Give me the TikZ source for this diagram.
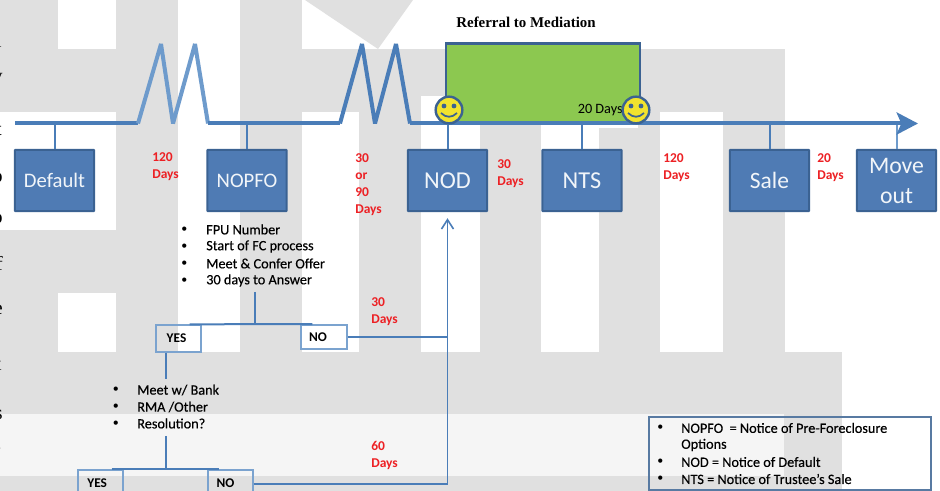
\documentclass[tikz,border=0pt]{standalone}
\usepackage{fontspec}
\setmainfont{Carlito}
\newfontfamily\serifface{Liberation Serif}
\newfontfamily\inkface[FakeBold=0.35]{Carlito}
\usetikzlibrary{arrows.meta,calc}
\definecolor{wmgray}{HTML}{E0E0E0}
\definecolor{wmlight}{HTML}{F5F5F5}
\definecolor{boxblue}{HTML}{4F7BB4}
\definecolor{boxedge}{HTML}{3B6292}
\definecolor{lineblue}{HTML}{4A7DB8}
\definecolor{paleline}{HTML}{6E9BCC}
\definecolor{thinbox}{HTML}{7BA3CF}
\definecolor{dayred}{HTML}{ED2024}
\definecolor{medgreen}{HTML}{8CC850}
\definecolor{smile}{HTML}{F2E32E}
\tikzset{
  wm/.style={fill=white,draw=none},
  stage/.style={draw=boxedge,fill=boxblue,line width=1.6pt,rounded corners=0.6pt,text=white!92!boxblue,
     minimum width=59.5pt,minimum height=46pt,inner sep=0pt,font=\fontsize{15.5}{18}\selectfont,align=center},
  bigstage/.style={stage,font=\fontsize{18.2}{21}\selectfont},
  days/.style={anchor=west,inner sep=0pt,text=dayred,font=\fontsize{10.1}{12.75}\selectfont\bfseries,align=left},
  note/.style={anchor=west,inner sep=0pt,text=black,font=\inkface\fontsize{10.7}{12}\selectfont},
  dot/.style={anchor=west,inner sep=0pt,text=black,font=\fontsize{9}{12}\selectfont},
  choice/.style={draw=thinbox,fill=none,line width=1.3pt,inner sep=0pt,font=\fontsize{10}{12}\selectfont\bfseries},
  main/.style={draw=lineblue,line width=3pt,line join=bevel},
  stem/.style={draw=lineblue,line width=1.5pt},
  route/.style={draw=lineblue,line width=1.2pt},
  fragment/.style={anchor=east,inner sep=0pt,font=\serifface\fontsize{15}{18}\selectfont},
}
\newcommand{\face}[2]{%
  \node[circle,draw=boxedge,fill=smile,line width=1.8pt,minimum size=20pt,inner sep=0pt] (#2) at (#1) {};
  \fill[boxedge] ($(#2)+(-5,-4)$) circle (2.4);
  \fill[boxedge] ($(#2)+(5,-4)$) circle (2.4);
  \draw[boxedge,line width=1.3pt] ($(#2)+(-8,3)$) .. controls ($(#2)+(-3,8)$) and ($(#2)+(3,8)$) .. ($(#2)+(8,3)$);
}
\begin{document}
\begin{tikzpicture}[x=0.75pt,y=-0.75pt]
\useasboundingbox (0,0) rectangle (940,491);
\clip (0,0) rectangle (940,491);
% watermark
\fill[wmgray] (0,0) rectangle (940,491);
\fill[wm] (58,0) rectangle (116,49);
\fill[wm] (178,0) rectangle (240,352);
\fill[wm] (302,0) rectangle (940,49);
\fill[wmgray] (305,0) -- (378,49) -- (413,0) -- cycle;
\fill[wm] (785,49) rectangle (940,352);
\fill[wm] (842,352) rectangle (940,491);
\fill[wm] (0,112) rectangle (116,230);
\fill[wm] (58,293) rectangle (116,352);
\fill[wm] (302,112) rectangle (359,352);
\fill[wm] (421,96) rectangle (480,352);
\fill[wm] (541,112) rectangle (599,352);
\fill[wm] (660,112) rectangle (723,352);
\fill[wmlight] (0,414) rectangle (784,476);
% cut-off letters of the page text at the left edge
\node[fragment] (f1) at (2,41) {l};
\node[fragment] (f2) at (3,80) {y};
\node[fragment] (f3) at (2,130) {t};
\node[fragment] (f4) at (3,178) {o};
\node[fragment] (f5) at (3,219) {o};
\node[fragment] (f6) at (3,263) {f};
\node[fragment] (f7) at (3,310) {e};
\node[fragment] (f8) at (2,366) {x};
\node[fragment] (f9) at (3,415) {s};
\node[fragment] (f10) at (2,449) {.};
% mediation
\node[draw=boxedge,fill=medgreen,line width=1.6pt,minimum width=145pt,minimum height=60pt,inner sep=0pt] (med) at (543,83.5) {};
\fill[white] (581,125) rectangle (638,128);
\node[inner sep=0pt,font=\serifface\fontsize{11.2}{13}\selectfont\bfseries] (medtitle) at (526,22) {Referral to Mediation};
% timeline
\coordinate (t0) at (15,123.5);
\coordinate (a1) at (138,123.5);
\coordinate (a2) at (161,44);
\coordinate (a3) at (173,123.5);
\coordinate (a4) at (195,44);
\coordinate (a5) at (208,123.5);
\coordinate (b1) at (340,123.5);
\coordinate (b2) at (362,44);
\coordinate (b3) at (375,123.5);
\coordinate (b4) at (396,44);
\coordinate (b5) at (410,123.5);
\coordinate (tend) at (918,123.5);
% stages
\node[stage] (default) at (54.5,180.5) {Default};
\node[stage] (nopfo) at (247,180.5) {NOPFO};
\node[bigstage] (nod) at (447.5,180.5) {NOD};
\node[bigstage] (nts) at (582,180.5) {NTS};
\node[stage,font=\fontsize{17.6}{21}\selectfont] (sale) at (769.5,180.5) {Sale};
\node[stage,font=\fontsize{17.8}{22.5}\selectfont] (move) at (896.5,180.5) {Move\\out};
\draw[stem] (default.north) -- (default.north |- t0);
\draw[stem] (nopfo.north) -- (nopfo.north |- t0);
\draw[stem] (nod.north) -- (nod.north |- t0);
\draw[stem] (nts.north) -- (nts.north |- t0);
\draw[stem] (sale.north) -- (sale.north |- t0);
\draw[stem,draw=paleline] (move.north) -- (move.north |- t0);
\draw[main] (t0) -- (a1);
\draw[main,draw=paleline] (a1) -- (a2) -- (a3) -- (a4) -- (a5);
\draw[main] (a5) -- (b1);
\draw[main] (b1) -- (b2) -- (b3) -- (b4) -- (b5);
\draw[main,-{Stealth[length=16pt,width=16.5pt,inset=3.5pt]}] (b5) -- (tend);
\node[anchor=west,inner sep=0pt,font=\fontsize{10.7}{12}\selectfont] (d20) at (577.5,110.5) {20 Days};
\face{449,110}{s1}
\face{636,110}{s2}
% day labels
\node[days] (l1) at (152,167) {120\\Days};
\node[days] (l2) at (355,184.5) {30\\or\\90\\Days};
\node[days] (l3) at (497,173.5) {30\\Days};
\node[days] (l4) at (663,167.5) {120\\Days};
\node[days] (l5) at (817,167.5) {20\\Days};
\node[days] (l6) at (371,311.5) {30\\Days};
\node[days] (l7) at (371,455.5) {60\\Days};
% first notes
\node[note] (n1) at (206,229.5) {FPU Number};
\node[note] (n2) at (206,246.5) {Start of FC process};
\node[note] (n3) at (206,263.5) {Meet \& Confer Offer};
\node[note] (n4) at (206,280.5) {30 days to Answer};
\foreach \y in {229.5,246.5,263.5,280.5} \node[dot] at (181,\y) {•};
% first decision
\node[choice,minimum width=33.5pt,minimum height=20pt] (yes1) at (178.5,338.5) {YES\kern3pt};
\node[choice,minimum width=34pt,minimum height=18pt] (no1) at (324,337) {NO\kern9pt};
\coordinate (q1) at (255,292);
\coordinate (q1b) at (255,325);
\draw[stem] (q1) -- (q1b);
\draw[stem] ($(yes1.north east)+(-12,0)$) -- ($(no1.north west)+(12,0)$);
% second notes
\coordinate (q2) at (166,379);
\draw[stem] (yes1.south -| q2) -- (q2);
\node[note] (m1) at (137,390) {Meet w/ Bank};
\node[note] (m2) at (137,407) {RMA /Other};
\node[note] (m3) at (137,423.5) {Resolution?};
\foreach \y in {390,407,423.5} \node[dot] at (112.5,\y) {•};
\coordinate (q3) at (166,436);
\node[choice,minimum width=33.5pt,minimum height=19.5pt] (yes2) at (100.5,483) {YES\kern5pt};
\node[choice,minimum width=33.5pt,minimum height=19.5pt] (no2) at (230.5,483) {NO\kern7.5pt};
\draw[stem] (q3) -- (q3 |- yes2.north);
\draw[stem] ($(yes2.north east)-(12,0)$) -- ($(no2.north west)+(12,0)$);
% route to NOD
\coordinate (c1) at (447.5,337);
\coordinate (c2) at (447.5,484);
\draw[route] (no1.east) -- (c1);
\draw[route] (no2.east |- c2) -- (c2);
\draw[route,-{Straight Barb[length=7pt,width=9pt]}] (c2) -- ($(nod.south)+(0,6)$);
% legend
\node[draw=boxedge!85,fill=none,line width=1.3pt,minimum width=211pt,minimum height=54.5pt,inner sep=0pt] (legend) at (790,453.5) {};
\node[note] (k1) at (681,428) {NOPFO\ \ = Notice of Pre-Foreclosure};
\node[note] (k2) at (681,445) {Options};
\node[note] (k3) at (681,462) {NOD = Notice of Default};
\node[note] (k4) at (681,479) {NTS = Notice of Trustee’s Sale};
\foreach \y in {428,462,479} \node[dot] at (657,\y) {•};
\end{tikzpicture}
\end{document}
